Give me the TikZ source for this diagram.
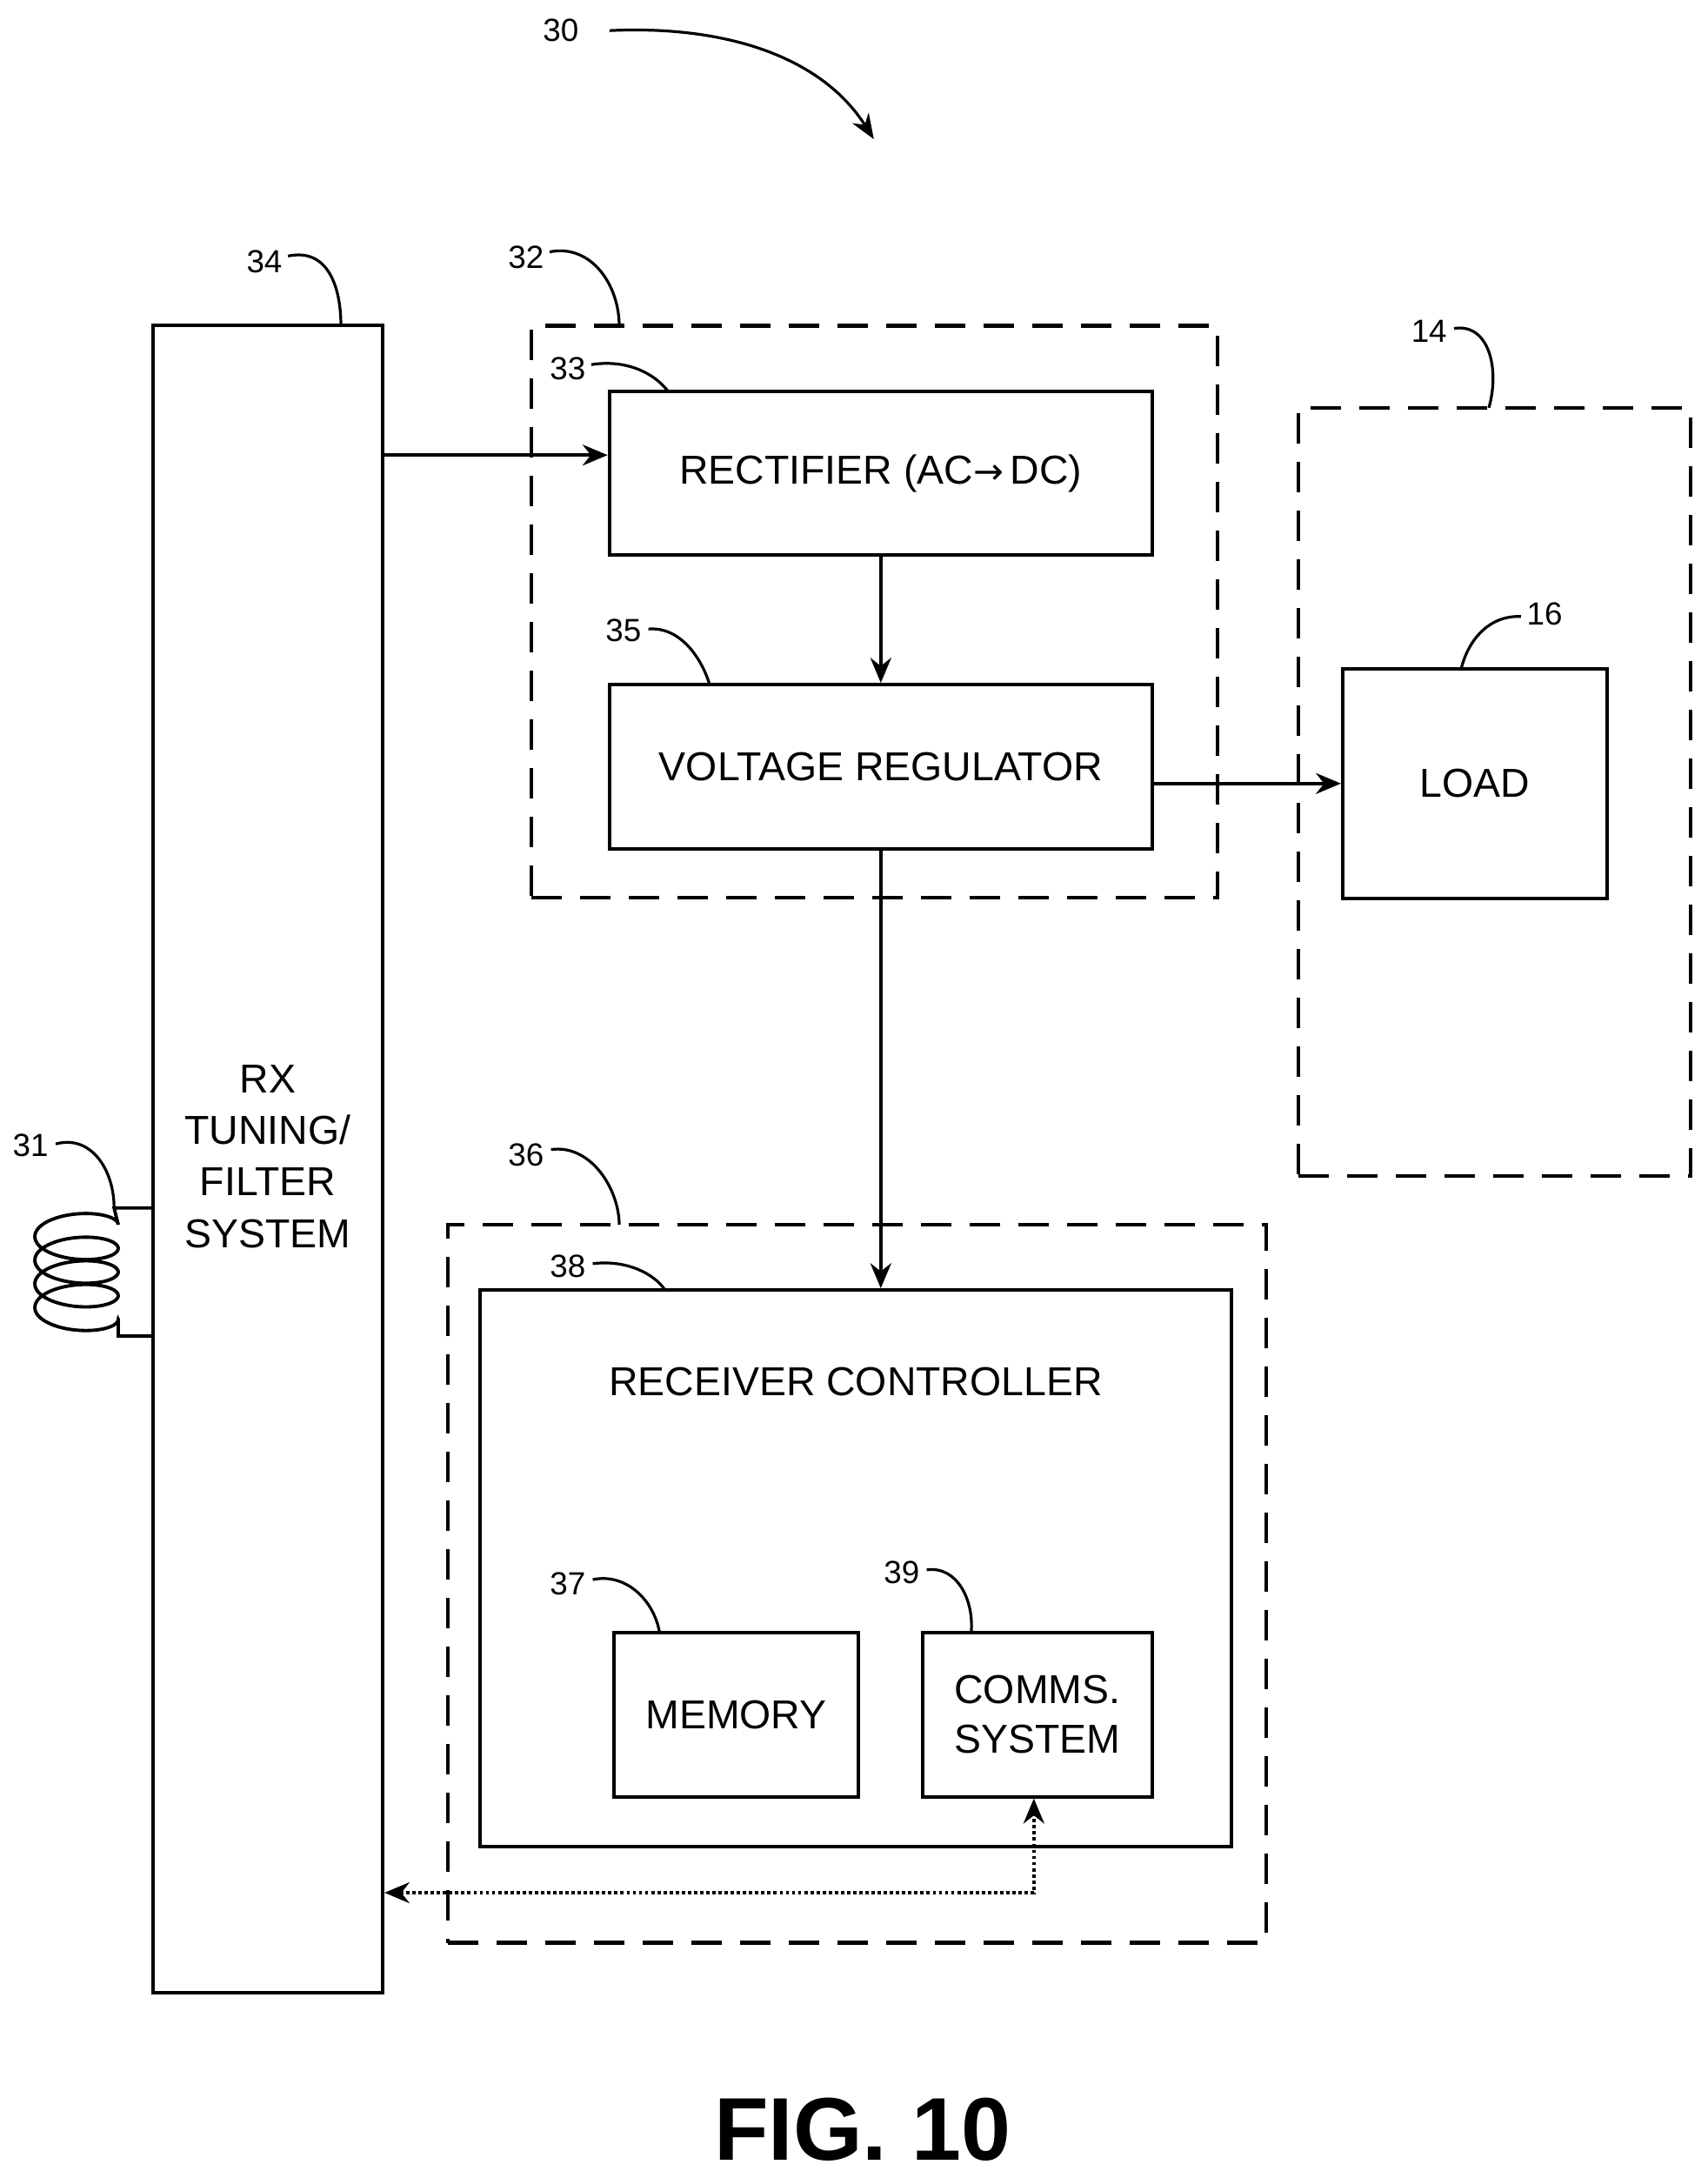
\documentclass[tikz,border=0pt]{standalone}
\usepackage{fontspec}
\setmainfont{Liberation Sans}
\newfontfamily\djv{DejaVu Sans}
\usetikzlibrary{arrows.meta}
\begin{document}
\begin{tikzpicture}[x=1pt,y=-1pt,
  box/.style={draw,line width=2.6pt,inner sep=0pt,font=\fontsize{29}{36}\selectfont,align=center},
  dbox/.style={draw,line width=2.8pt,dash pattern=on 22pt off 13pt,inner sep=0pt},
  lbl/.style={font=\fontsize{23}{28}\selectfont,inner sep=1pt},
  ld/.style={line width=2pt},
  arr/.style={line width=2.4pt,-{Stealth[length=18pt,width=15pt]}},
  darr/.style={line width=2.4pt,dotted,{Stealth[length=18pt,width=15pt]}-{Stealth[length=18pt,width=15pt]}}]
\useasboundingbox (0,0) rectangle (1227,1565);
% boxes
\node[dbox,minimum width=493pt,minimum height=411pt] (d32) at (628.5,439.5) {};
\node[dbox,minimum width=282pt,minimum height=552pt] (d14) at (1074,569) {};
\node[dbox,minimum width=588pt,minimum height=516pt] (d36) at (616,1138) {};
\node[box,minimum width=165pt,minimum height=1198pt] (rx) at (192.5,833) {};
\node[font=\fontsize{29}{37}\selectfont,align=center] (rxt) at (192.5,831) {RX\\TUNING/\\FILTER\\SYSTEM};
\node[box,minimum width=390pt,minimum height=118pt] (rect) at (633,340) {RECTIFIER (AC{\djv\fontsize{26}{30}\selectfont→}\,DC)};
\node[box,minimum width=390pt,minimum height=118pt] (vr) at (633,551) {VOLTAGE REGULATOR};
\node[box,minimum width=190pt,minimum height=165pt] (load) at (1060,563) {LOAD};
\node[box,minimum width=540pt,minimum height=400pt] (rc) at (615,1127) {};
\node[font=\fontsize{29}{36}\selectfont] (rct) at (615,993) {RECEIVER CONTROLLER};
\node[box,minimum width=176pt,minimum height=118pt] (mem) at (529,1232) {MEMORY};
\node[box,minimum width=165pt,minimum height=118pt] (com) at (745.5,1232) {COMMS.\\SYSTEM};
\node[font=\bfseries\fontsize{64}{70}\selectfont] (fig) at (620,1530) {FIG. 10};
% arrows
\draw[arr] (rx.east |- 0,327) -- (rect.west |- 0,327);
\draw[arr] (rect.south) -- (vr.north);
\draw[arr] (vr.east |- load.west) -- (load.west);
\draw[arr] (vr.south) -- (rc.north -| vr.south);
\coordinate (dc) at (743,1360);
\draw[darr] (rx.east |- dc) -- (dc) -- (com.south -| dc);
% labels
\node[lbl] (l30) at (403,22) {30};
\draw[ld,-{Stealth[length=18pt,width=14pt]}] (438,22) .. controls (520,18) and (590,40) .. (628,100);
\node[lbl] (l34) at (190,188) {34};
\draw[ld] (207,184) .. controls (235,178) and (245,205) .. (245,234);
\node[lbl] (l32) at (378,185) {32};
\draw[ld] (395,181) .. controls (425,175) and (445,205) .. (445,234);
\node[lbl] (l33) at (408,265) {33};
\draw[ld] (425,262) .. controls (450,258) and (470,268) .. (480,281);
\node[lbl] (l35) at (448,453) {35};
\draw[ld] (466,452) .. controls (490,450) and (505,475) .. (510,492);
\node[lbl] (l14) at (1027,238) {14};
\draw[ld] (1045,236) .. controls (1070,232) and (1078,265) .. (1070,293);
\node[lbl] (l16) at (1110,441) {16};
\draw[ld] (1093,443) .. controls (1070,442) and (1055,460) .. (1050,481);
\node[lbl] (l36) at (378,830) {36};
\draw[ld] (396,826) .. controls (425,822) and (445,855) .. (445,880);
\node[lbl] (l38) at (408,910) {38};
\draw[ld] (426,908) .. controls (450,905) and (470,915) .. (478,927);
\node[lbl] (l37) at (408,1138) {37};
\draw[ld] (426,1135) .. controls (450,1130) and (470,1150) .. (474,1173);
\node[lbl] (l39) at (648,1130) {39};
\draw[ld] (666,1128) .. controls (688,1125) and (700,1150) .. (698,1173);
\node[lbl] (l31) at (22,823) {31};
\draw[ld] (40,822) .. controls (65,815) and (82,840) .. (82,868);
% coil
\draw[line width=2.4pt] (rx.west |- 0,868) -- (82,868)
  -- plot[smooth,samples=160,domain=0:1440,variable=\t] ({55+30*cos(\t)}, {880+\t/1440*68-12*sin(\t)})
  -- (85,948) -- (85,960) -- (rx.west |- 0,960);
\end{tikzpicture}
\end{document}
